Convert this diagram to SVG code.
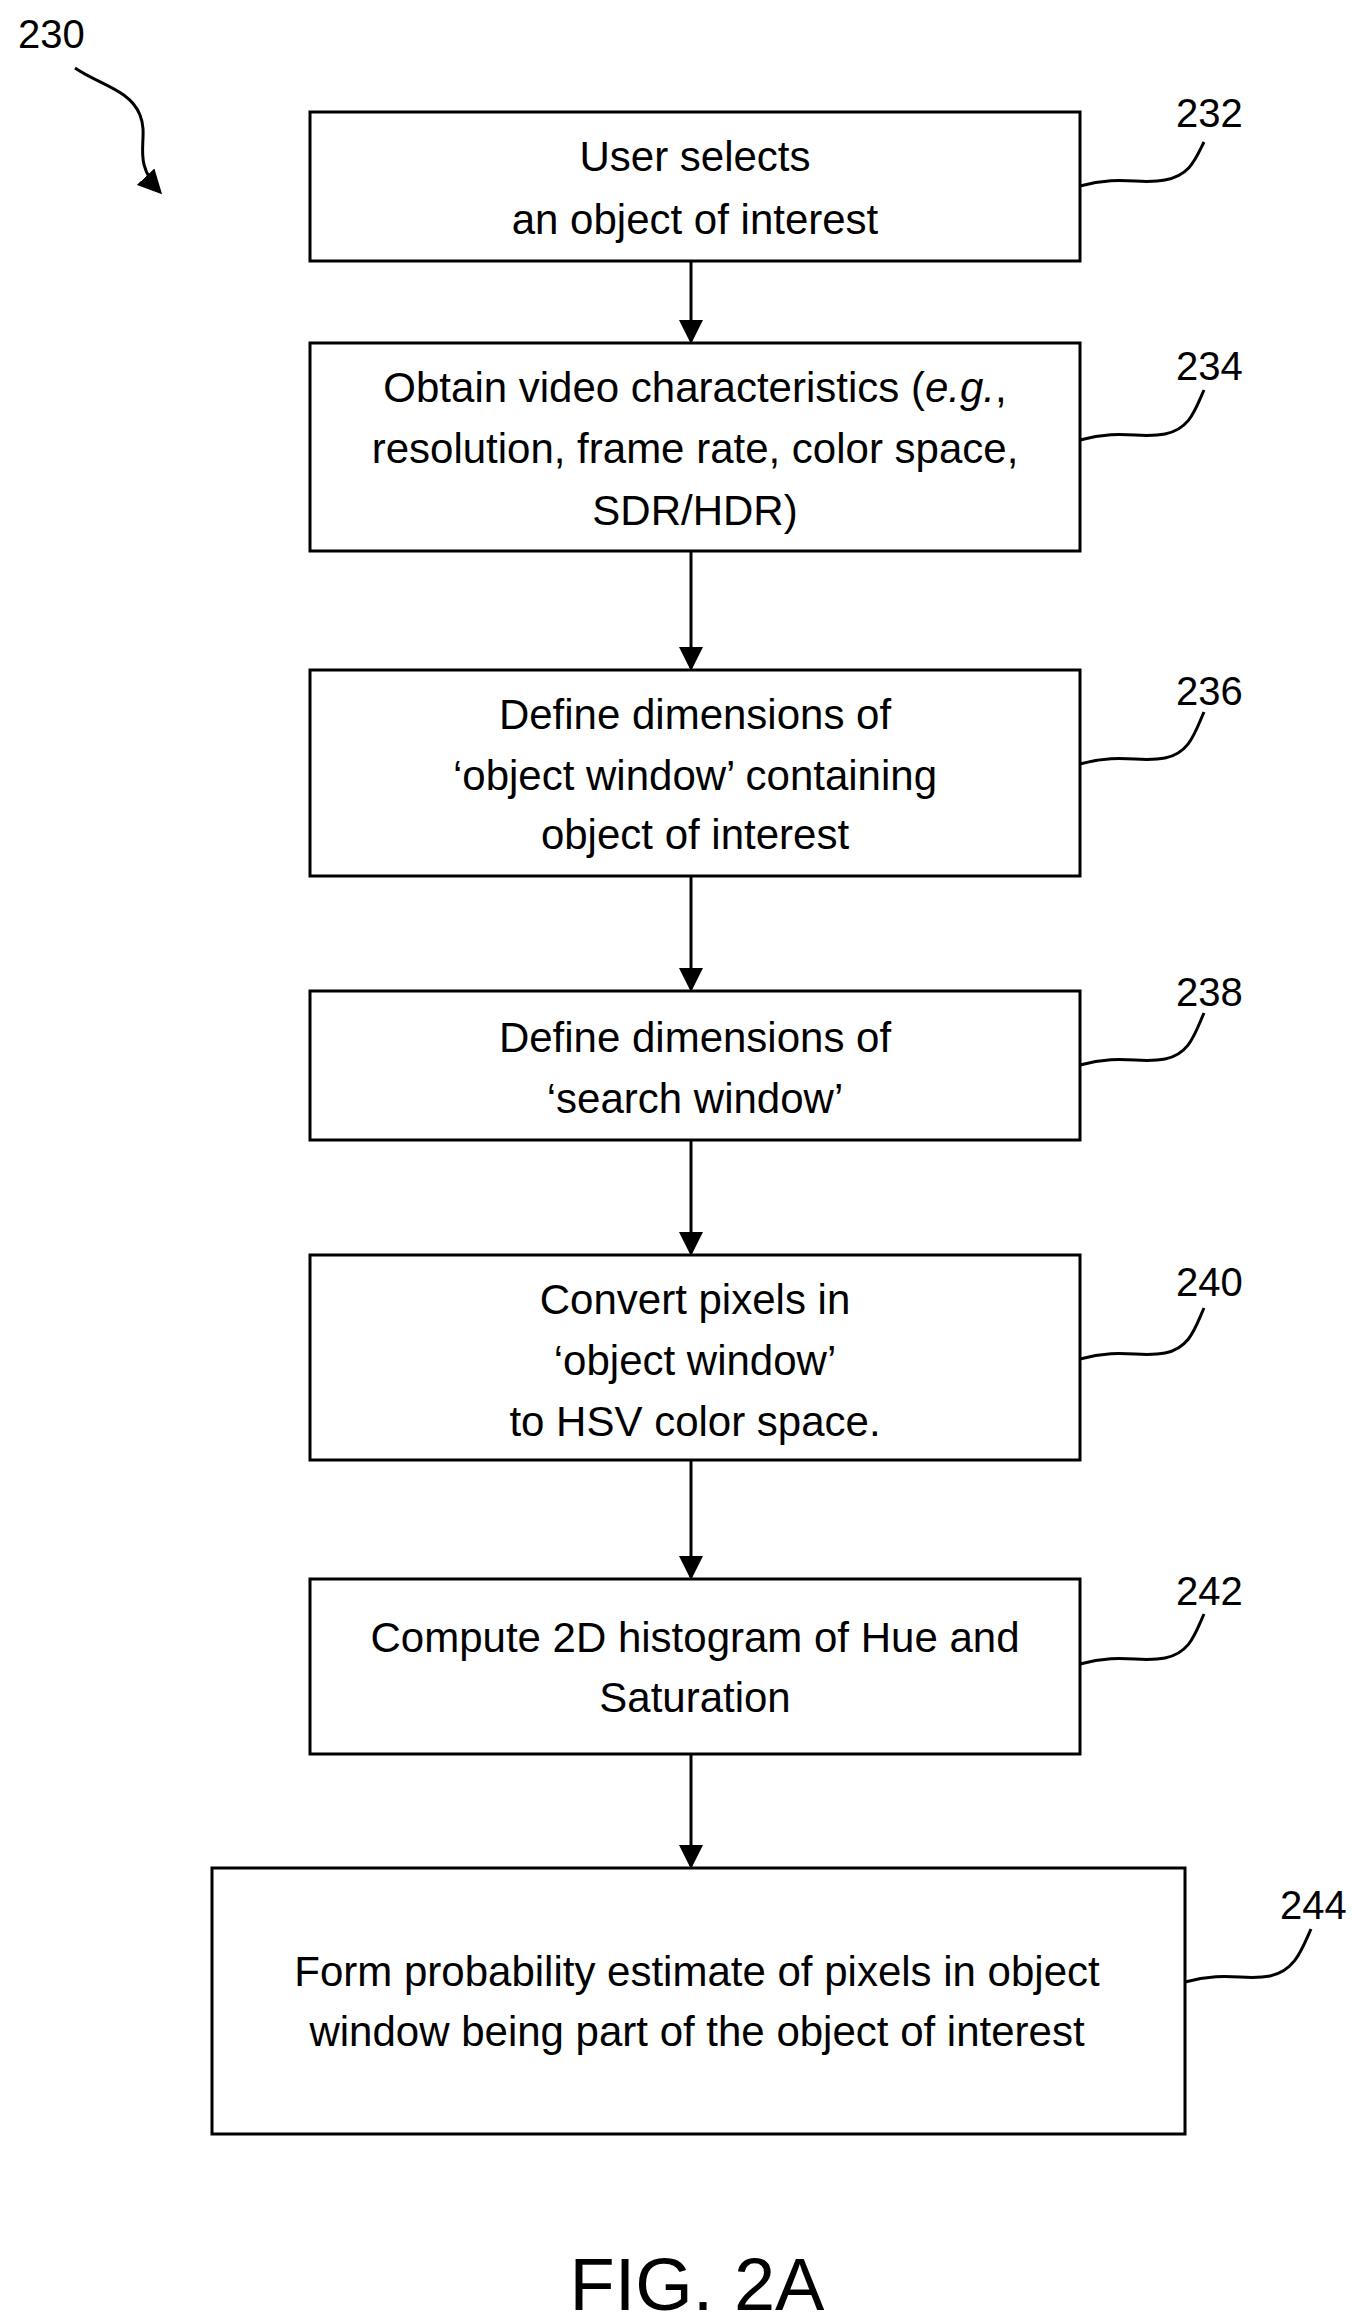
<svg xmlns="http://www.w3.org/2000/svg" width="1365" height="2323" viewBox="0 0 1365 2323">
<style>
.b{fill:#fff;stroke:#000;stroke-width:3}
.t{font-family:"Liberation Sans",Arial,sans-serif;font-size:42px;text-anchor:middle;dominant-baseline:central;fill:#000}
.l{font-family:"Liberation Sans",Arial,sans-serif;font-size:40px;fill:#000}
.c{fill:none;stroke:#000;stroke-width:3}
</style>
<defs><marker id="a" markerWidth="8" markerHeight="8" refX="7" refY="4" orient="auto" markerUnits="strokeWidth"><path d="M0,0 L8,4 L0,8 z" fill="#000"/></marker></defs>
<rect width="1365" height="2323" fill="#fff"/>
<g id="n232"><rect class="b" x="310" y="112" width="770" height="149"/><text class="t" x="695" y="156">User selects</text><text class="t" x="695" y="219">an object of interest</text></g>
<g id="n234"><rect class="b" x="310" y="343" width="770" height="208"/><text class="t" x="695" y="387">Obtain video characteristics (<tspan font-style="italic">e.g.</tspan>,</text><text class="t" x="695" y="448">resolution, frame rate, color space,</text><text class="t" x="695" y="510">SDR/HDR)</text></g>
<g id="n236"><rect class="b" x="310" y="670" width="770" height="206"/><text class="t" x="695" y="714">Define dimensions of</text><text class="t" x="695" y="775">‘object window’ containing</text><text class="t" x="695" y="834">object of interest</text></g>
<g id="n238"><rect class="b" x="310" y="991" width="770" height="149"/><text class="t" x="695" y="1037">Define dimensions of</text><text class="t" x="695" y="1098">‘search window’</text></g>
<g id="n240"><rect class="b" x="310" y="1255" width="770" height="205"/><text class="t" x="695" y="1299">Convert pixels in</text><text class="t" x="695" y="1360">‘object window’</text><text class="t" x="695" y="1421">to HSV color space.</text></g>
<g id="n242"><rect class="b" x="310" y="1579" width="770" height="175"/><text class="t" x="695" y="1637">Compute 2D histogram of Hue and</text><text class="t" x="695" y="1697">Saturation</text></g>
<g id="n244"><rect class="b" x="212" y="1868" width="973" height="266"/><text class="t" x="697" y="1971">Form probability estimate of pixels in object</text><text class="t" x="697" y="2031">window being part of the object of interest</text></g>
<g id="labels">
<text class="l" x="1176" y="127">232</text><text class="l" x="1176" y="380">234</text><text class="l" x="1176" y="705">236</text><text class="l" x="1176" y="1006">238</text><text class="l" x="1176" y="1296">240</text><text class="l" x="1176" y="1605">242</text><text class="l" x="1280" y="1919">244</text>
<text class="l" x="18" y="48">230</text>
<text x="697" y="2310" font-family="Liberation Sans,Arial,sans-serif" font-size="74" text-anchor="middle">FIG. 2A</text>
</g>
<g id="connectors">
<path class="c" marker-end="url(#a)" d="M691 261V341"/>
<path class="c" marker-end="url(#a)" d="M691 551V668"/>
<path class="c" marker-end="url(#a)" d="M691 876V989"/>
<path class="c" marker-end="url(#a)" d="M691 1140V1253"/>
<path class="c" marker-end="url(#a)" d="M691 1460V1577"/>
<path class="c" marker-end="url(#a)" d="M691 1754V1866"/>
<path class="c" d="M1080 186C1120 175 1140 185 1165 180C1190 175 1195 160 1204 142"/>
<path class="c" d="M1080 440C1120 429 1140 439 1165 434C1190 429 1195 410 1204 390"/>
<path class="c" d="M1080 764C1120 753 1140 763 1165 758C1190 753 1195 732 1204 712"/>
<path class="c" d="M1080 1065C1120 1054 1140 1064 1165 1059C1190 1054 1195 1033 1204 1013"/>
<path class="c" d="M1080 1359C1120 1348 1140 1358 1165 1353C1190 1348 1195 1328 1204 1308"/>
<path class="c" d="M1080 1664C1120 1653 1140 1663 1165 1658C1190 1653 1195 1634 1204 1614"/>
<path class="c" d="M1185 1982C1225 1971 1245 1981 1270 1976C1295 1971 1302 1949 1311 1929"/>
<path class="c" marker-end="url(#a)" d="M75 68C100 85 130 90 140 115C150 140 130 160 160 192"/>
</g>
</svg>
